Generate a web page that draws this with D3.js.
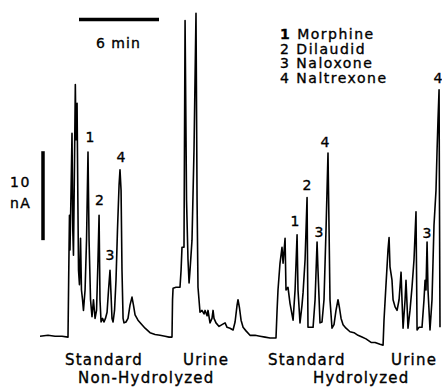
<!DOCTYPE html>
<html><head><meta charset="utf-8">
<script src="https://cdn.jsdelivr.net/npm/d3@7"></script>
<style>
html,body{margin:0;padding:0;background:#fff;}
text{font-family:"DejaVu Sans",sans-serif;fill:#000;stroke:#000;stroke-width:0.35px;}
</style></head>
<body>
<svg id="c" width="442" height="387"></svg>
<script>
// time (min) and detector current (nA)
const time = [0,0.6,1.13,1.65,2.10,2.15,2.21,2.25,2.33,2.40,2.46,2.51,2.59,2.65,2.70,2.78,2.84,2.89,2.96,3.04,3.11,3.19,3.26,3.38,3.49,3.60,3.68,3.79,3.90,4.01,4.13,4.24,4.35,4.43,4.50,4.58,4.69,4.80,4.91,5.03,5.14,5.25,5.33,5.40,5.48,5.59,5.70,5.81,5.93,6.00,6.08,6.15,6.23,6.30,6.45,6.60,6.75,6.90,7.01,7.13,7.35,7.58,7.88,8.25,8.63,9.00,9.38,9.68,9.90,
 9.94,9.98,10.20,10.50,10.58,10.65,10.80,10.88,10.99,11.10,11.18,11.25,11.40,11.55,11.70,11.78,11.85,12.00,12.15,12.30,12.38,12.53,12.60,12.75,12.90,12.98,13.05,13.20,13.43,13.65,13.88,14.03,14.25,14.48,14.63,14.78,14.85,14.96,15.08,15.23,15.45,15.75,16.13,16.50,16.88,17.25,17.55,17.70,
 17.78,17.85,18.00,18.15,18.23,18.38,18.45,18.60,18.75,18.98,19.13,19.28,19.35,19.50,19.65,19.73,19.88,20.03,20.10,20.25,20.48,20.63,20.78,20.85,21.00,21.15,21.30,21.45,21.60,21.68,21.75,21.90,22.05,22.20,22.35,22.46,22.58,22.73,22.95,23.25,23.55,23.85,24.15,24.45,24.83,25.13,25.50,25.73,
 25.80,25.95,26.10,26.18,26.25,26.40,26.48,26.63,26.78,26.93,27.08,27.15,27.23,27.38,27.45,27.53,27.60,27.75,27.90,28.05,28.20,28.28,28.43,28.65,28.80,28.88,28.95,29.03,29.10,29.25,29.40,29.55,29.70,29.78,29.85,29.93,29.96,30.00];
const current = [1.1,1.2,1.1,1.1,1.0,7.4,14.7,10.8,17.5,23.9,13.0,10.2,20.9,29.4,23.2,27.3,16.4,8.5,6.9,12.1,6.3,5.2,4.0,6.3,11.9,21.8,11.9,5.2,3.3,5.2,3.1,4.0,9.7,14.7,5.2,2.7,3.1,2.7,3.1,3.8,6.3,8.5,5.7,3.1,2.7,4.0,7.4,13.0,18.1,19.8,17.5,8.5,3.1,2.6,2.7,3.1,4.6,5.5,4.6,3.5,2.9,2.5,2.0,1.5,1.3,1.2,1.1,1.0,1.0,
 5.2,6.5,6.6,6.6,8.5,11.1,11.1,36.6,16.4,9.7,7.1,8.5,11.9,22.0,37.4,16.4,6.6,3.8,4.0,3.6,4.0,3.4,4.0,2.6,3.1,4.0,3.1,2.6,2.2,2.4,2.6,2.1,2.0,1.8,2.7,4.6,5.2,4.3,2.9,2.1,1.7,1.2,1.2,1.1,1.0,0.9,0.9,0.9,
 4.0,6.3,9.3,11.1,9.3,12.1,6.3,6.6,4.8,2.9,6.3,12.5,6.3,2.6,4.6,6.0,9.7,16.7,2.1,2.1,2.1,5.2,11.7,8.5,2.6,2.7,5.2,13.0,21.7,13.0,5.2,2.0,2.4,4.0,5.2,4.3,3.1,2.4,2.0,1.6,1.5,1.2,1.0,0.8,0.4,0.4,0.2,0.1,
 2.9,6.9,10.8,12.2,8.9,7.4,5.2,4.4,4.0,5.2,8.3,5.2,2.0,5.2,7.4,4.6,2.0,4.0,6.6,9.7,15.1,1.8,2.1,2.1,5.2,7.4,6.3,11.7,6.3,1.8,5.2,13.6,17.5,22.0,25.4,28.8,16.4,2.1];

// peak numbers: time (min), label anchor (nA), text
const peakTimes  = [3.75,4.46,5.25,6.08,19.13,20.03,20.93,21.38,29.03,29.85];
const peakLabelY = [22.9,15.8,9.7,20.7,13.5,17.5,12.2,22.4,12.1,29.6];
const peakNames  = ["1","2","3","4","1","2","3","4","3","4"];

const legendItems = ["Morphine","Dilaudid","Naloxone","Naltrexone"];
const sampleLabels = ["Standard","Urine","Standard","Urine"];
const sampleTimes  = [1.88,10.73,17.10,26.33];
const groupLabels  = ["Non-Hydrolyzed","Hydrolyzed"];
const groupTimes   = [2.85,20.48];

// scale bars
const timeBar = {start:2.925, length:6, label:"6 min"};
const currentBar = {t:0.225, base:11.9, length:10, label1:"10", label2:"nA"};

const svg = d3.select("#c");
const x = d3.scaleLinear().domain([0,30]).range([40,440]);
const y = d3.scaleLinear().domain([0,38.9]).range([346,0]);

const pts = time.map((t,i)=>[t,current[i]]);
svg.append("path")
  .datum(pts)
  .attr("fill","none")
  .attr("stroke","#000")
  .attr("stroke-width",1.6)
  .attr("stroke-linejoin","round")
  .attr("d", d3.line().x(d=>x(d[0])).y(d=>y(d[1])));

// time scale bar
svg.append("line")
  .attr("x1",x(timeBar.start)).attr("x2",x(timeBar.start+timeBar.length))
  .attr("y1",19.5).attr("y2",19.5)
  .attr("stroke","#000").attr("stroke-width",3.5);
svg.append("text").attr("x",96).attr("y",48)
  .style("font-size","14px").style("letter-spacing","1px").text(timeBar.label);

// current scale bar
svg.append("line")
  .attr("x1",x(currentBar.t)).attr("x2",x(currentBar.t))
  .attr("y1",y(currentBar.base)).attr("y2",y(currentBar.base+currentBar.length))
  .attr("stroke","#000").attr("stroke-width",3.5);
svg.append("text").attr("x",10).attr("y",187)
  .style("font-size","14px").style("letter-spacing","1.5px").text(currentBar.label1);
svg.append("text").attr("x",10).attr("y",208)
  .style("font-size","14px").style("letter-spacing","1.5px").text(currentBar.label2);

// legend
const lg = svg.append("g");
legendItems.forEach((name,i)=>{
  const t = lg.append("text").attr("x",280).attr("y",39+i*14.6)
    .style("font-size","14px").style("letter-spacing","1.5px");
  t.append("tspan").style("font-weight", i===0?"bold":"normal").text(String(i+1));
  t.append("tspan").text(" "+name);
});

// peak numbers
peakNames.forEach((n,i)=>{
  svg.append("text").attr("x",x(peakTimes[i])).attr("y",y(peakLabelY[i]))
    .attr("text-anchor","middle").style("font-size","14px").text(n);
});

// sample labels
sampleLabels.forEach((s,i)=>{
  svg.append("text").attr("x",x(sampleTimes[i])).attr("y",365)
    .style("font-size","15px").style("letter-spacing","1.2px").text(s);
});
groupLabels.forEach((s,i)=>{
  svg.append("text").attr("x",x(groupTimes[i])).attr("y",383)
    .style("font-size","15px").style("letter-spacing","1.2px").text(s);
});
</script>
</body></html>
